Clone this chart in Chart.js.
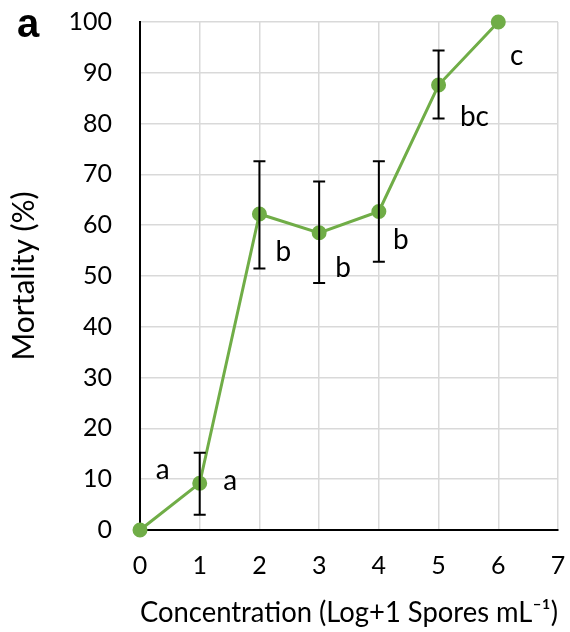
<!DOCTYPE html>
<html>
<head>
<meta charset="utf-8">
<script src="https://cdn.jsdelivr.net/npm/chart.js@4"></script>
<style>
  html, body { margin: 0; padding: 0; background: #fff; }
  #wrap { width: 570px; height: 632px; position: relative; }
</style>
</head>
<body>
<div id="wrap"><canvas id="graph"></canvas></div>
<script>
// data mortalité
const concX = [0, 1, 2, 3, 4, 5, 6];
const mortality = [0, 9.2, 62.2, 58.5, 62.7, 87.6, 100];
const errLow = [null, 3.0, 51.5, 48.6, 52.8, 81.0, null];
const errHigh = [null, 15.2, 72.6, 68.6, 72.6, 94.4, null];

// lettres de significativité
const letterText = ['a', 'a', 'b', 'b', 'b', 'bc', 'c'];
const letterX = [0.38, 1.51, 2.4, 3.4, 4.37, 5.6, 6.31];
const letterY = [11.8, 9.6, 54.7, 51.6, 57.1, 81.3, 93.3];

const green = '#70ad47';
const tickFont = { family: 'Lato', size: 25 };

// barres d'erreur + lettres
const extras = {
    id: 'extras',
    afterDatasetsDraw(chart) {
        const ctx = chart.ctx;
        const x = chart.scales.x;
        const y = chart.scales.y;
        ctx.save();
        ctx.strokeStyle = '#000';
        ctx.lineWidth = 2;
        concX.forEach((c, i) => {
            if (errLow[i] === null) return;
            const px = x.getPixelForValue(c);
            const top = y.getPixelForValue(errHigh[i]);
            const bot = y.getPixelForValue(errLow[i]);
            ctx.beginPath();
            ctx.moveTo(px, top); ctx.lineTo(px, bot);
            ctx.moveTo(px - 6, top); ctx.lineTo(px + 6, top);
            ctx.moveTo(px - 6, bot); ctx.lineTo(px + 6, bot);
            ctx.stroke();
        });
        ctx.fillStyle = '#000';
        ctx.font = '28px Lato';
        ctx.textAlign = 'center';
        ctx.textBaseline = 'middle';
        letterText.forEach((t, i) => {
            ctx.fillText(t, x.getPixelForValue(letterX[i]), y.getPixelForValue(letterY[i]));
        });
        // étiquette du panneau
        ctx.font = 'bold 40px "Liberation Sans"';
        ctx.fillText('a', 28, 26);
        ctx.restore();
    }
};

const chart = new Chart(document.getElementById('graph'), {
    type: 'line',
    data: {
        datasets: [{
            data: concX.map((c, i) => ({ x: c, y: mortality[i] })),
            borderColor: green,
            backgroundColor: green,
            borderWidth: 3,
            pointRadius: 6,
            pointHoverRadius: 6,
            clip: false
        }]
    },
    options: {
        responsive: true,
        maintainAspectRatio: false,
        animation: false,
        layout: { padding: { top: 22, right: 12, left: 0, bottom: 0 } },
        plugins: { legend: { display: false }, tooltip: { enabled: false } },
        scales: {
            x: {
                type: 'linear',
                min: 0, max: 7,
                ticks: { stepSize: 1, color: '#000', font: tickFont, padding: 0 },
                grid: { color: '#d9d9d9', lineWidth: 1.5, tickLength: 21, tickColor: 'rgba(0,0,0,0)' },
                border: { color: '#000', width: 2 },
                title: {
                    display: true,
                    text: 'Concentration (Log+1 Spores mL\u207B\u00B9)',
                    color: '#000',
                    font: { family: 'Lato', size: 28 },
                    padding: { top: 4, bottom: 2 }
                },
                afterFit: s => { s.height = 102; }
            },
            y: {
                min: 0, max: 100,
                ticks: { stepSize: 10, color: '#000', font: tickFont, padding: 0 },
                grid: { color: '#d9d9d9', lineWidth: 1.5, tickLength: 28, tickColor: 'rgba(0,0,0,0)' },
                border: { color: '#000', width: 2 },
                title: {
                    display: true,
                    text: 'Mortality (%)',
                    color: '#000',
                    font: { family: 'Lato', size: 30 },
                    padding: { top: 6, bottom: 0 }
                },
                afterFit: s => { s.width = 140; }
            }
        }
    },
    plugins: [extras]
});
</script>
</body>
</html>
